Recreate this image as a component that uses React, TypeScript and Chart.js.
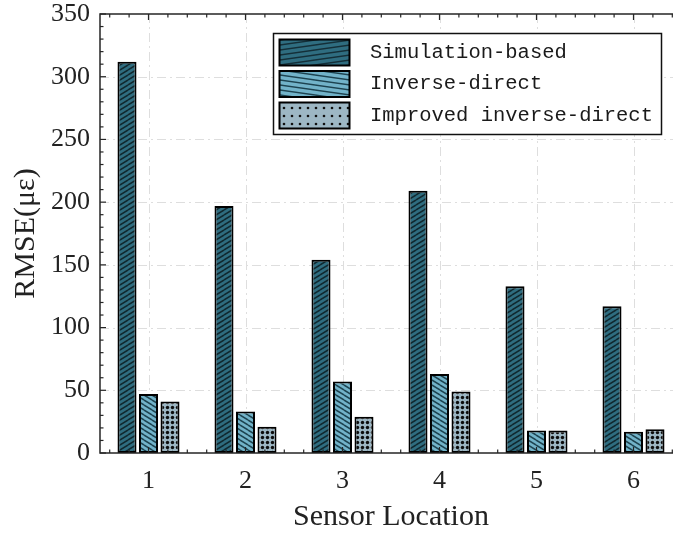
import React, { useEffect, useRef } from "react";
import { Chart, registerables } from "chart.js";

Chart.register(...registerables);

const locations = [1, 2, 3, 4, 5, 6];
const seriesLabels = ["Simulation-based", "Inverse-direct", "Improved inverse-direct"];
const simulationBased = [312, 197, 154, 209, 133, 117];
const inverseDirect = [47, 33, 57, 63, 18, 17];
const improvedInverseDirect = [41, 21, 29, 49, 18, 19];
const yTicks = [0, 50, 100, 150, 200, 250, 300, 350];
const xTitle = "Sensor Location";
const yTitle = "RMSE(\u03bc\u03b5)";

const SERIF = "'Liberation Serif', 'Times New Roman', serif";
const MONO = "'Liberation Mono', 'DejaVu Sans Mono', monospace";

function linePattern(fill: string, stroke: string, w: number, h: number, dir: 1 | -1, lw: number) {
  const c = document.createElement("canvas");
  c.width = w;
  c.height = h;
  const ctx = c.getContext("2d")!;
  ctx.fillStyle = fill;
  ctx.fillRect(0, 0, w, h);
  ctx.strokeStyle = stroke;
  ctx.lineWidth = lw;
  for (let n = -1; n <= 1; n++) {
    ctx.beginPath();
    if (dir === 1) {
      ctx.moveTo(0, h + n * h);
      ctx.lineTo(w, n * h);
    } else {
      ctx.moveTo(0, n * h);
      ctx.lineTo(w, h + n * h);
    }
    ctx.stroke();
  }
  return ctx.createPattern(c, "repeat")!;
}

function dotPattern(fill: string, dot: string, s: number, r: number) {
  const c = document.createElement("canvas");
  c.width = s;
  c.height = s;
  const ctx = c.getContext("2d")!;
  ctx.fillStyle = fill;
  ctx.fillRect(0, 0, s, s);
  ctx.fillStyle = dot;
  ctx.beginPath();
  ctx.arc(s / 2, s / 2, r, 0, Math.PI * 2);
  ctx.fill();
  return ctx.createPattern(c, "repeat")!;
}

export default function App() {
  const ref = useRef<HTMLCanvasElement>(null);

  useEffect(() => {
    const canvas = ref.current!;
    const simFill = "#2f6d80";
    const invFill = "#72b3c9";
    const impFill = "#9db7c4";
    const barPatterns = [
      linePattern(simFill, "#10282f", 8, 5, 1, 1.5),
      linePattern(invFill, "#1d4350", 8, 5, -1, 1.5),
      dotPattern(impFill, "#0d0d0d", 5, 1.7),
    ];
    const legendPatterns = [
      linePattern(simFill, "#142f38", 35, 5, 1, 1.4),
      linePattern(invFill, "#1d4350", 35, 5, -1, 1.4),
      dotPattern(impFill, "#111111", 8, 1.3),
    ];
    const seriesData = [simulationBased, inverseDirect, improvedInverseDirect];

    const decor = {
      id: "decor",
      beforeDatasetsDraw(chart: any) {
        const { ctx, chartArea: a, scales } = chart;
        const xs = scales.x;
        const ys = scales.y;
        ctx.save();
        ctx.strokeStyle = "#dedede";
        ctx.lineWidth = 1;
        ctx.setLineDash([9, 4, 2, 4]);
        for (const v of yTicks) {
          if (v === 0 || v === 350) continue;
          const y = Math.round(ys.getPixelForValue(v)) + 0.5;
          ctx.beginPath();
          ctx.moveTo(a.left, y);
          ctx.lineTo(a.right, y);
          ctx.stroke();
        }
        for (const v of locations) {
          const x = Math.round(xs.getPixelForValue(v)) + 0.5;
          ctx.beginPath();
          ctx.moveTo(x, a.top);
          ctx.lineTo(x, a.bottom);
          ctx.stroke();
        }
        ctx.restore();
      },
      afterDatasetsDraw(chart: any) {
        const { ctx, chartArea: a, scales } = chart;
        const xs = scales.x;
        const ys = scales.y;
        ctx.save();
        ctx.strokeStyle = "#262626";
        ctx.lineWidth = 1.5;
        ctx.setLineDash([]);
        ctx.beginPath();
        ctx.moveTo(a.right + 20, a.top);
        ctx.lineTo(a.left, a.top);
        ctx.lineTo(a.left, a.bottom);
        ctx.lineTo(a.right + 20, a.bottom);
        ctx.stroke();
        ctx.lineWidth = 1.2;
        for (let v = 0; v <= 350; v += 10) {
          const y = ys.getPixelForValue(v);
          const len = v % 50 === 0 ? 6 : 3.5;
          ctx.beginPath();
          ctx.moveTo(a.left, y);
          ctx.lineTo(a.left + len, y);
          ctx.stroke();
        }
        for (let k = 0; k <= 40; k++) {
          const v = 0.6 + k * 0.2;
          if (v > 6.9) break;
          const x = xs.getPixelForValue(v);
          const major = Math.abs(v - Math.round(v)) < 1e-6;
          const len = major ? 6 : 3.5;
          ctx.beginPath();
          ctx.moveTo(x, a.top);
          ctx.lineTo(x, a.top + len);
          ctx.moveTo(x, a.bottom);
          ctx.lineTo(x, a.bottom - len);
          ctx.stroke();
        }
        ctx.fillStyle = "#222222";
        ctx.font = `30px ${SERIF}`;
        ctx.textAlign = "center";
        ctx.textBaseline = "middle";
        ctx.fillText(xTitle, (a.left + a.right) / 2, 517);
        ctx.translate(26, (a.top + a.bottom) / 2);
        ctx.rotate(-Math.PI / 2);
        ctx.fillText(yTitle, 0, 0);
        ctx.restore();

        ctx.save();
        const lx = 273.5, ly = 33.5, lw = 388, lh = 101;
        ctx.fillStyle = "#ffffff";
        ctx.fillRect(lx, ly, lw, lh);
        ctx.strokeStyle = "#111111";
        ctx.lineWidth = 1.5;
        ctx.strokeRect(lx, ly, lw, lh);
        const rowTops = [39.5, 71, 102.5];
        ctx.font = `20.5px ${MONO}`;
        ctx.textAlign = "left";
        ctx.textBaseline = "middle";
        for (let i = 0; i < 3; i++) {
          ctx.fillStyle = legendPatterns[i];
          ctx.fillRect(279.5, rowTops[i], 70, 26);
          ctx.lineWidth = 2;
          ctx.strokeStyle = "#000000";
          ctx.strokeRect(279.5, rowTops[i], 70, 26);
          ctx.fillStyle = "#1a1a1a";
          ctx.fillText(seriesLabels[i], 370, rowTops[i] + 13);
        }
        ctx.restore();
      },
    };

    const chart = new Chart(canvas, {
      type: "bar",
      data: {
        datasets: seriesData.map((vals, i) => ({
          label: seriesLabels[i],
          data: locations.map((x, j) => ({ x, y: vals[j] })),
          backgroundColor: barPatterns[i],
          borderColor: "#000000",
          borderWidth: 2,
          borderSkipped: false,
          categoryPercentage: 0.665,
          barPercentage: 0.885,
        })),
      },
      options: {
        responsive: false,
        animation: false,
        events: [],
        layout: { padding: { top: 14, right: 18, left: 0, bottom: 0 } },
        plugins: { legend: { display: false }, tooltip: { enabled: false } },
        scales: {
          x: {
            type: "linear",
            min: 0.5,
            max: 6.5,
            offset: false,
            grid: { display: false, drawTicks: false },
            border: { display: false },
            ticks: {
              padding: 13,
              color: "#222222",
              font: { family: SERIF, size: 26 },
              callback: (v: any) => String(v),
            },
            afterBuildTicks: (s: any) => {
              s.ticks = locations.map((v) => ({ value: v }));
            },
            afterFit: (s: any) => {
              s.height = 80;
              s.paddingLeft = 0;
              s.paddingRight = 0;
            },
          },
          y: {
            min: 0,
            max: 350,
            grid: { display: false, drawTicks: false },
            border: { display: false },
            ticks: {
              stepSize: 50,
              padding: 10,
              color: "#222222",
              font: { family: SERIF, size: 26 },
            },
            afterFit: (s: any) => {
              s.width = 100;
              s.paddingTop = 0;
              s.paddingBottom = 0;
            },
          },
        },
      },
      plugins: [decor],
    });
    return () => chart.destroy();
  }, []);

  return (
    <div style={{ position: "fixed", left: 0, top: 0, width: 673, height: 533, overflow: "hidden", background: "#fff" }}>
      <canvas ref={ref} width={700} height={533} style={{ display: "block" }} />
    </div>
  );
}
